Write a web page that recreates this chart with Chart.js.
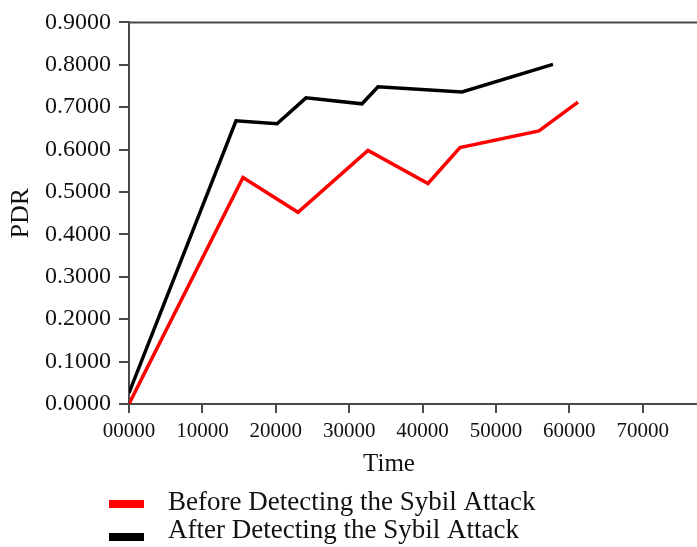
<!DOCTYPE html>
<html>
<head>
<meta charset="utf-8">
<script src="https://cdn.jsdelivr.net/npm/chart.js@4/dist/chart.umd.min.js"></script>
<style>
  html, body { margin: 0; padding: 0; background: #ffffff; }
  #wrap { width: 697px; height: 547px; position: relative; }
</style>
</head>
<body>
<div id="wrap"><canvas id="pdr"></canvas></div>
<script>
// PDR over simulation time, before and after the Sybil attack is detected
const timeBefore = [0, 15530, 23030, 32570, 40740, 45100, 55870, 61180];
const pdrBefore  = [0, 0.534, 0.452, 0.598, 0.520, 0.605, 0.644, 0.712];

const timeAfter  = [0, 14580, 20170, 24120, 31750, 33930, 45370, 57770];
const pdrAfter   = [0.026, 0.668, 0.661, 0.722, 0.708, 0.748, 0.736, 0.801];

const seriesLabels = ['Before Detecting the Sybil Attack', 'After Detecting the Sybil Attack'];
const seriesColors = ['#ff0000', '#000000'];

const xTicks = [0, 10000, 20000, 30000, 40000, 50000, 60000, 70000];
const yTicks = [0, 0.1, 0.2, 0.3, 0.4, 0.5, 0.6, 0.7, 0.8, 0.9];
const xTitle = 'Time';
const yTitle = 'PDR';

const SERIF = '"Liberation Serif", "DejaVu Serif", serif';
const INK = '#111111';
const AXIS = '#4a4a4a';

const toPoints = (xs, ys) => xs.map((x, i) => ({ x: x, y: ys[i] }));

// Frame top line, axis titles and the stacked legend below the plot
const decorations = {
  id: 'decorations',
  afterDraw(chart) {
    const { ctx, chartArea } = chart;
    ctx.save();
    // top frame line
    ctx.strokeStyle = AXIS;
    ctx.lineWidth = 2;
    ctx.beginPath();
    ctx.moveTo(chartArea.left, chartArea.top);
    ctx.lineTo(chart.width, chartArea.top);
    ctx.stroke();

    ctx.fillStyle = INK;
    // x title
    ctx.font = '25px ' + SERIF;
    ctx.textAlign = 'center';
    ctx.textBaseline = 'middle';
    ctx.fillText(xTitle, 389, 464);
    // y title
    ctx.save();
    ctx.translate(21, (chartArea.top + chartArea.bottom) / 2);
    ctx.rotate(-Math.PI / 2);
    ctx.font = '26px ' + SERIF;
    ctx.fillText(yTitle, 0, 0);
    ctx.restore();

    // legend
    ctx.textAlign = 'left';
    ctx.font = '27px ' + SERIF;
    const rows = [503, 531];
    const swatchTop = [500, 533];
    chart.data.datasets.forEach((ds, i) => {
      ctx.fillStyle = ds.borderColor;
      ctx.fillRect(109, swatchTop[i], 35, 8);
      ctx.fillStyle = INK;
      ctx.fillText(ds.label, 168, rows[i]);
    });
    ctx.restore();
  }
};

new Chart(document.getElementById('pdr'), {
  type: 'line',
  data: {
    datasets: [
      {
        label: seriesLabels[0],
        data: toPoints(timeBefore, pdrBefore),
        borderColor: seriesColors[0],
        backgroundColor: seriesColors[0],
        borderWidth: 3.5,
        pointRadius: 0,
        tension: 0,
        fill: false
      },
      {
        label: seriesLabels[1],
        data: toPoints(timeAfter, pdrAfter),
        borderColor: seriesColors[1],
        backgroundColor: seriesColors[1],
        borderWidth: 3.5,
        pointRadius: 0,
        tension: 0,
        fill: false
      }
    ]
  },
  options: {
    responsive: true,
    maintainAspectRatio: false,
    animation: false,
    layout: { padding: { top: 20, right: 0, left: 0, bottom: 0 } },
    plugins: {
      legend: { display: false },
      tooltip: { enabled: false },
      title: { display: false }
    },
    scales: {
      x: {
        type: 'linear',
        min: 0,
        max: 77400,
        afterBuildTicks(scale) { scale.ticks = xTicks.map(v => ({ value: v })); },
        afterFit(scale) { scale.height = 143; },
        grid: { drawOnChartArea: false, drawTicks: true, tickLength: 9, color: AXIS, lineWidth: 2 },
        border: { display: true, color: AXIS, width: 2 },
        ticks: {
          color: INK,
          padding: 6,
          maxRotation: 0,
          autoSkip: false,
          font: { family: SERIF, size: 21 },
          callback: v => String(v).padStart(5, '0')
        }
      },
      y: {
        type: 'linear',
        min: 0,
        max: 0.9,
        afterBuildTicks(scale) { scale.ticks = yTicks.map(v => ({ value: v })); },
        afterFit(scale) { scale.width = 129; },
        grid: { drawOnChartArea: false, drawTicks: true, tickLength: 10, color: AXIS, lineWidth: 2 },
        border: { display: true, color: AXIS, width: 2 },
        ticks: {
          color: INK,
          padding: 8,
          autoSkip: false,
          font: { family: SERIF, size: 24 },
          callback: v => Number(v).toFixed(4)
        }
      }
    }
  },
  plugins: [decorations]
});
</script>
</body>
</html>
